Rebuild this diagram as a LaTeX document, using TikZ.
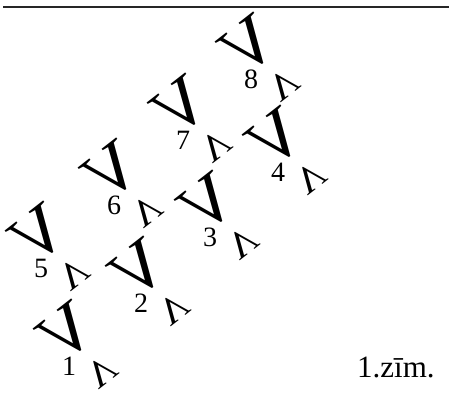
\documentclass[tikz,border=0pt]{standalone}
\usepackage{fontspec}
\setmainfont{Liberation Serif}
\usetikzlibrary{positioning}
\tikzset{
  bigv/.style={inner sep=0pt,anchor=base,rotate=38,xscale=-1,
    font=\fontsize{70}{70}\selectfont},
  smallv/.style={inner sep=0pt,anchor=base,rotate=218,xscale=-1,
    font=\fontsize{38}{38}\selectfont},
  num/.style={inner sep=0pt,font=\fontsize{28}{28}\selectfont},
  rule/.style={draw=black!85,line width=1.3pt},
}

\begin{document}
\begin{tikzpicture}[x=1pt,y=1pt]
\useasboundingbox (0,0) rectangle (449,398);
\coordinate (u1) at (81,48);
\coordinate (u2) at (153,111);
\coordinate (u3) at (222,177);
\coordinate (u4) at (290,242);
\coordinate (u5) at (53,146);
\coordinate (u6) at (126,209);
\coordinate (u7) at (195,274);
\coordinate (u8) at (263,335);
\coordinate (la) at (3,391);
\coordinate (lb) at (449,391);
\draw[rule] (la)--(lb);
\node[bigv] (v1) at (u1) {V};
\node[bigv] (v2) at (u2) {V};
\node[bigv] (v3) at (u3) {V};
\node[bigv] (v4) at (u4) {V};
\node[bigv] (v5) at (u5) {V};
\node[bigv] (v6) at (u6) {V};
\node[bigv] (v7) at (u7) {V};
\node[bigv] (v8) at (u8) {V};
\node[num] (n1) at ([shift={(-12,-16)}]u1) {1};
\node[num] (n2) at ([shift={(-12,-16)}]u2) {2};
\node[num] (n3) at ([shift={(-12,-16)}]u3) {3};
\node[num] (n4) at ([shift={(-12,-16)}]u4) {4};
\node[num] (n5) at ([shift={(-12,-16)}]u5) {5};
\node[num] (n6) at ([shift={(-12,-16)}]u6) {6};
\node[num] (n7) at ([shift={(-12,-16)}]u7) {7};
\node[num] (n8) at ([shift={(-12,-16)}]u8) {8};
\node[smallv] (s1) at ([shift={(13,-12)}]u1) {V};
\node[smallv] (s2) at ([shift={(13,-12)}]u2) {V};
\node[smallv] (s3) at ([shift={(13,-12)}]u3) {V};
\node[smallv] (s4) at ([shift={(13,-12)}]u4) {V};
\node[smallv] (s5) at ([shift={(13,-12)}]u5) {V};
\node[smallv] (s6) at ([shift={(13,-12)}]u6) {V};
\node[smallv] (s7) at ([shift={(13,-12)}]u7) {V};
\node[smallv] (s8) at ([shift={(13,-12)}]u8) {V};
\node[num,anchor=base west,font=\fontsize{31}{31}\selectfont] (cap) at (357,20) {1.zīm.};
\end{tikzpicture}
\end{document}
